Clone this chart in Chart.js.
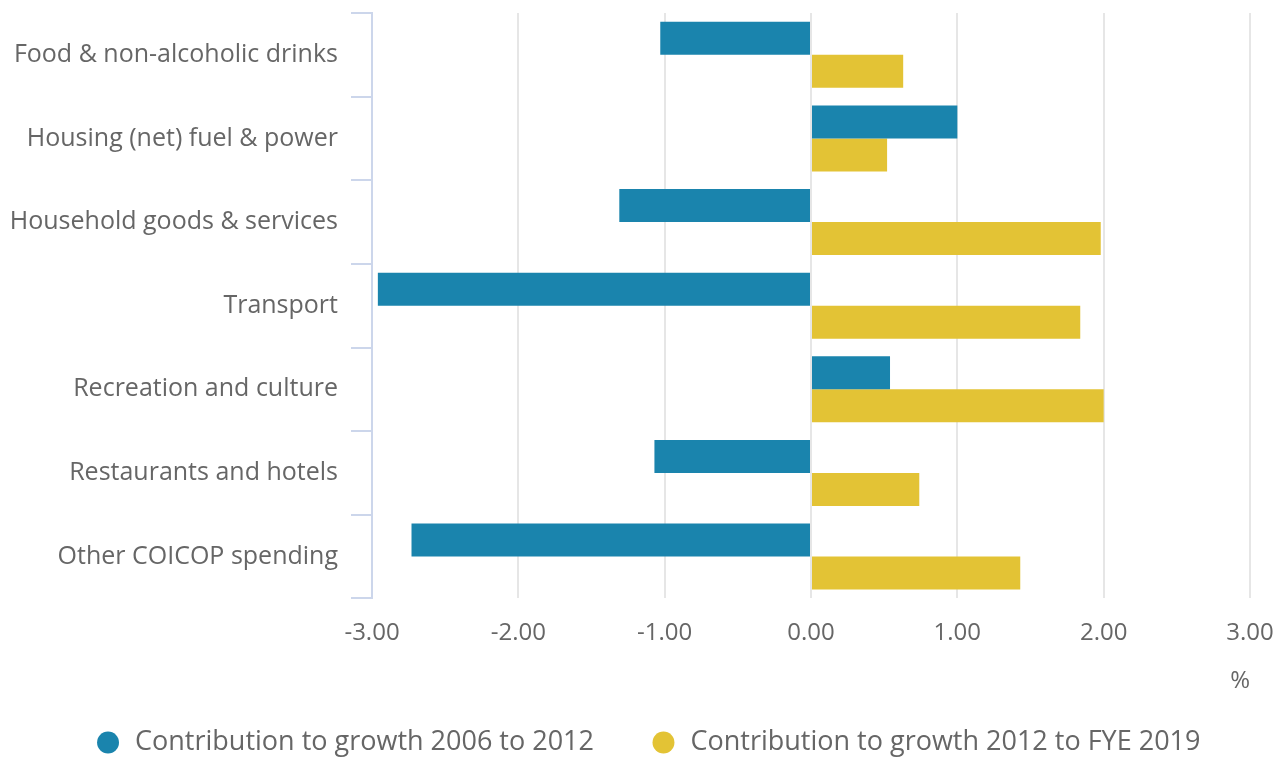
<!DOCTYPE html>
<html>
<head>
<meta charset="utf-8">
<script src="https://cdn.jsdelivr.net/npm/chart.js@4"></script>
<style>
  html, body { margin: 0; padding: 0; background: #ffffff; }
  #wrap { width: 1285px; height: 758px; position: relative; }
</style>
</head>
<body>
<div id="wrap"><canvas id="c"></canvas></div>
<script>
const categories = [
  "Food & non-alcoholic drinks",
  "Housing (net) fuel & power",
  "Household goods & services",
  "Transport",
  "Recreation and culture",
  "Restaurants and hotels",
  "Other COICOP spending"
];
const seriesNames = ["Contribution to growth 2006 to 2012", "Contribution to growth 2012 to FYE 2019"];
const growth2006to2012 = [-1.03, 1.00, -1.31, -2.96, 0.54, -1.07, -2.73];
const growth2012toFYE2019 = [0.63, 0.52, 1.98, 1.84, 2.00, 0.74, 1.43];
const xTickMin = -3, xTickMax = 3, xTickStep = 1;
const axisUnit = "%";

const FONT = "'Open Sans', sans-serif";
const TEXT = "#666666";

new Chart(document.getElementById('c'), {
  type: 'bar',
  data: {
    labels: categories,
    datasets: [
      { label: seriesNames[0], data: growth2006to2012, backgroundColor: '#1a84ad', borderWidth: 0, categoryPercentage: 0.79, barPercentage: 1.0 },
      { label: seriesNames[1], data: growth2012toFYE2019, backgroundColor: '#e3c335', borderWidth: 0, categoryPercentage: 0.79, barPercentage: 1.0 }
    ]
  },
  options: {
    indexAxis: 'y',
    responsive: true,
    maintainAspectRatio: false,
    animation: false,
    layout: { padding: { top: 13, right: 0, left: 10, bottom: -8 } },
    scales: {
      x: {
        min: xTickMin, max: xTickMax,
        afterFit: (s) => { s.paddingRight = 35; },
        ticks: { stepSize: xTickStep, color: TEXT, font: { family: FONT, size: 24 }, padding: 20, callback: v => Number(v).toFixed(2) },
        grid: { color: '#e6e6e6', lineWidth: 2, drawTicks: false },
        border: { display: false },
        title: { display: true, text: axisUnit, align: 'end', color: TEXT, font: { family: FONT, size: 24 }, padding: { top: 0, bottom: -23 } }
      },
      y: {
        afterFit: (s) => { s.paddingTop = 0; s.paddingBottom = 0; s.width = 362; },
        ticks: { color: TEXT, font: { family: FONT, size: 25 }, padding: 13 },
        grid: { offset: true, drawOnChartArea: false, drawTicks: true, tickLength: 21, color: '#ccd6eb', lineWidth: 2 },
        border: { display: true, color: '#ccd6eb', width: 2 }
      }
    },
    plugins: {
      legend: {
        position: 'bottom',
        labels: { usePointStyle: true, pointStyle: 'circle', boxWidth: 27, boxHeight: 15.5, padding: 56, color: TEXT, font: { family: FONT, size: 27 } }
      },
      tooltip: { enabled: false }
    }
  }
});
</script>
</body>
</html>
